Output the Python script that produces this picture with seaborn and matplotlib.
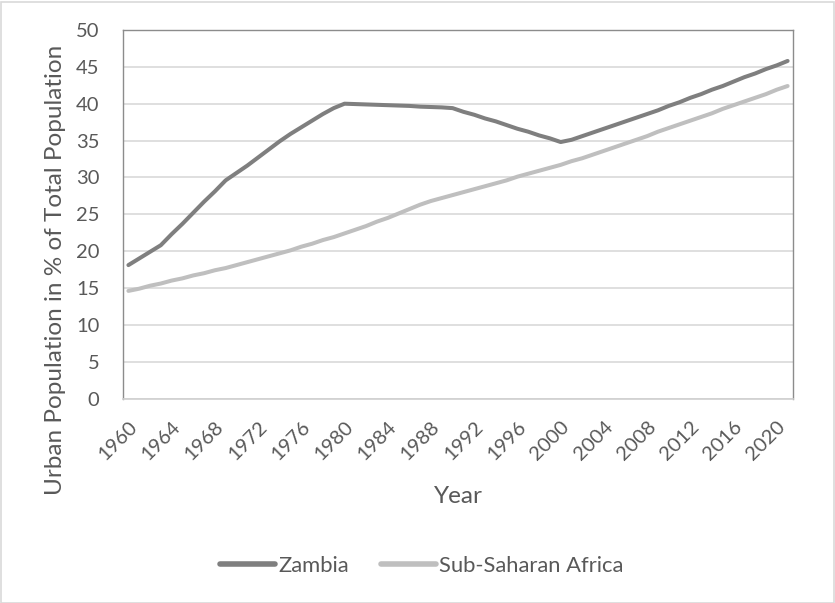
import numpy as np
import pandas as pd
import matplotlib
matplotlib.use("Agg")
import matplotlib.pyplot as plt
from matplotlib.patches import Rectangle
import seaborn as sns

# Urban population as share of total population (%), 1960-2021
years = list(range(1960, 2022))

zambia = [
    18.1, 19.0, 19.9, 20.8, 22.3, 23.7, 25.2, 26.7, 28.1, 29.6,   # 1960s
    30.6, 31.6, 32.7, 33.8, 34.9, 35.9, 36.8, 37.7, 38.6, 39.4,   # 1970s
    40.0, 39.95, 39.9, 39.85, 39.8, 39.75, 39.7, 39.6, 39.55, 39.5,  # 1980s
    39.4, 38.9, 38.5, 38.0, 37.6, 37.1, 36.6, 36.2, 35.7, 35.3,   # 1990s
    34.8, 35.1, 35.6, 36.1, 36.6, 37.1, 37.6, 38.1, 38.6, 39.1,   # 2000s
    39.7, 40.2, 40.8, 41.3, 41.9, 42.4, 43.0, 43.6, 44.1, 44.7,   # 2010s
    45.2, 45.8,                                                   # 2020s
]

sub_saharan_africa = [
    14.6, 14.9, 15.3, 15.6, 16.0, 16.3, 16.7, 17.0, 17.4, 17.7,   # 1960s
    18.1, 18.5, 18.9, 19.3, 19.7, 20.1, 20.6, 21.0, 21.5, 21.9,   # 1970s
    22.4, 22.9, 23.4, 24.0, 24.5, 25.1, 25.7, 26.3, 26.8, 27.2,   # 1980s
    27.6, 28.0, 28.4, 28.8, 29.2, 29.6, 30.1, 30.5, 30.9, 31.3,   # 1990s
    31.7, 32.2, 32.6, 33.1, 33.6, 34.1, 34.6, 35.1, 35.6, 36.2,   # 2000s
    36.7, 37.2, 37.7, 38.2, 38.7, 39.3, 39.8, 40.3, 40.8, 41.3,   # 2010s
    41.9, 42.4,                                                   # 2020s
]

series_names = ["Zambia", "Sub-Saharan Africa"]
series_colors = ["#7f7f7f", "#bfbfbf"]
tick_years = list(range(1960, 2021, 4))
y_ticks = list(range(0, 51, 5))

df = pd.DataFrame({
    "Year": years * 2,
    "Value": zambia + sub_saharan_africa,
    "Region": [series_names[0]] * len(years) + [series_names[1]] * len(years),
})

sns.set_theme(style="white")
plt.rcParams["font.family"] = ["Lato", "DejaVu Sans"]

text_color = "#595959"
tick_size = 14.5
title_size = 17.5
legend_size = 15.8

fig = plt.figure(figsize=(8.35, 6.03), dpi=100)
ax = fig.add_axes([123 / 835, 1 - 398.5 / 603, 670 / 835, 368.5 / 603])

sns.lineplot(
    data=df, x="Year", y="Value", hue="Region",
    palette=dict(zip(series_names, series_colors)),
    linewidth=2.9, ax=ax, legend=False,
    solid_capstyle="round", solid_joinstyle="round",
)

ax.set_xlim(years[0] - 0.5, years[-1] + 0.5)
ax.set_ylim(0, 50)
ax.set_yticks(y_ticks)
ax.set_xticks(tick_years)
ax.set_xticklabels([str(y) for y in tick_years], rotation=45,
                   ha="right", va="top", rotation_mode="anchor")

ax.yaxis.grid(True, color="#d9d9d9", linewidth=1.2)
ax.xaxis.grid(False)
ax.set_axisbelow(True)

for side in ["left", "top", "right"]:
    ax.spines[side].set_color("#8c8c8c")
    ax.spines[side].set_linewidth(1.0)
ax.spines["bottom"].set_color("#d0d0d0")
ax.spines["bottom"].set_linewidth(1.2)

ax.tick_params(axis="y", length=0, pad=17, labelsize=tick_size, labelcolor=text_color)
ax.tick_params(axis="x", length=0, pad=14, labelsize=tick_size, labelcolor=text_color)

ax.set_xlabel("Year", fontsize=title_size, color=text_color, va="baseline")
ax.xaxis.set_label_coords(0.5, (398.5 - 503) / 368.5)
ax.set_ylabel("Urban Population in % of Total Population", fontsize=title_size,
              color=text_color, va="baseline", rotation_mode="anchor")
ax.yaxis.set_label_coords((62 - 123) / 670, (398.5 - 270) / 368.5)

handles = [plt.Line2D([0], [0], color=c, linewidth=4.0, solid_capstyle="round")
           for c in series_colors]
leg = fig.legend(handles, series_names, loc="center",
                 bbox_to_anchor=(422 / 835, 1 - 566 / 603), ncol=2, frameon=False,
                 fontsize=legend_size, handlelength=2.5, handletextpad=0.15,
                 columnspacing=1.45)
for t in leg.get_texts():
    t.set_color(text_color)

# thin outer border around the chart area
fig.patches.append(Rectangle((0.5 / 835, 0.5 / 603), 1 - 2 / 835, 1 - 2 / 603,
                             transform=fig.transFigure, fill=False,
                             edgecolor="#d9d9d9", linewidth=1.2))

fig.savefig("out.png", dpi=100, facecolor="white")
